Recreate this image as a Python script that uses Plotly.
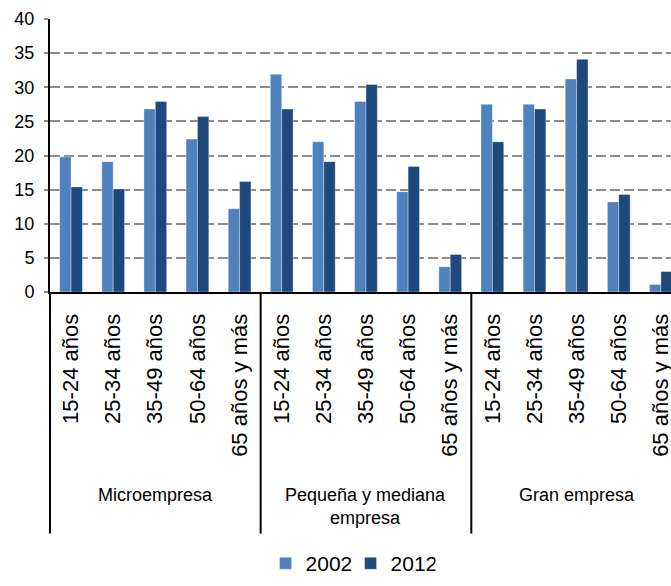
import plotly.graph_objects as go

groups = ["Microempresa", "Pequeña y mediana<br>empresa", "Gran empresa"]
ages = ["15-24 años", "25-34 años", "35-49 años", "50-64 años", "65 años y más"]
series_names = ["2002", "2012"]
values_2002 = [19.8, 19.1, 26.8, 22.4, 12.2,
               31.9, 22.0, 27.9, 14.7, 3.7,
               27.5, 27.5, 31.2, 13.2, 1.1]
values_2012 = [15.4, 15.1, 27.9, 25.7, 16.2,
               26.8, 19.1, 30.4, 18.4, 5.5,
               22.0, 26.8, 34.1, 14.3, 3.0]
colors = ["#4F81BD", "#1F497D"]
y_ticks = [0, 5, 10, 15, 20, 25, 30, 35, 40]

n_ages = len(ages)
x_idx = [gi * n_ages + ai for gi in range(len(groups)) for ai in range(n_ages)]
x_labels = [a for _ in groups for a in ages]

x_range = [-0.5, 14.24]

fig = go.Figure()
for name, vals, col in zip(series_names, [values_2002, values_2012], colors):
    fig.add_trace(go.Bar(x=x_idx, y=vals, name=name,
                         marker=dict(color=col, line=dict(color="rgba(255,255,255,0.35)", width=1))))

sans = "Liberation Sans, Arial, sans-serif"

# group labels and dividers
annotations = []
shapes = []
for gi, g in enumerate(groups):
    center = gi * n_ages + (n_ages - 1) / 2
    annotations.append(dict(x=center, xref="x", y=-0.70, yref="paper",
                            text=g, showarrow=False, yanchor="top", xanchor="center",
                            font=dict(family=sans, size=18, color="black")))
    bx = gi * n_ages - 0.5
    px = (bx - x_range[0]) / (x_range[1] - x_range[0])
    shapes.append(dict(type="line", xref="paper", yref="paper", x0=px, x1=px,
                       y0=0, y1=-0.885, line=dict(color="black", width=2)))

fig.update_layout(
    width=671, height=586,
    margin=dict(l=50, r=0, t=19, b=294),
    paper_bgcolor="white", plot_bgcolor="white",
    barmode="group", bargap=0.46, bargroupgap=0,
    showlegend=True,
    legend=dict(orientation="h", x=0.484, xanchor="center", y=-1.07, yanchor="bottom",
                font=dict(family=sans, size=21, color="black"),
                itemclick=False, itemwidth=30, entrywidth=40, entrywidthmode="pixels"),
    annotations=annotations,
    shapes=shapes,
    font=dict(family=sans, color="black"),
)
fig.update_xaxes(
    range=x_range, tickmode="array", tickvals=x_idx, ticktext=x_labels,
    tickangle=-90, tickfont=dict(size=22, family=sans, color="black"),
    showline=True, linecolor="black", linewidth=2, showgrid=False, zeroline=False,
    ticks="", ticklabelstandoff=11, automargin=False, ticklabeloverflow="allow",
)
fig.update_yaxes(
    range=[0, 40], tickmode="array", tickvals=y_ticks,
    tickfont=dict(size=18, family=sans, color="black"),
    showline=True, linecolor="black", linewidth=2,
    showgrid=True, gridcolor="#8c8c8c", gridwidth=2, griddash="10px,4px",
    zeroline=False, ticks="outside", ticklen=4, tickcolor="#8c8c8c", tickwidth=2,
    ticklabelstandoff=6, automargin=False, ticklabeloverflow="allow",
)
fig.write_html(
    "out.html",
    config={"displayModeBar": False},
    post_script="document.body.style.margin='0';document.body.style.overflow='hidden';",
)
